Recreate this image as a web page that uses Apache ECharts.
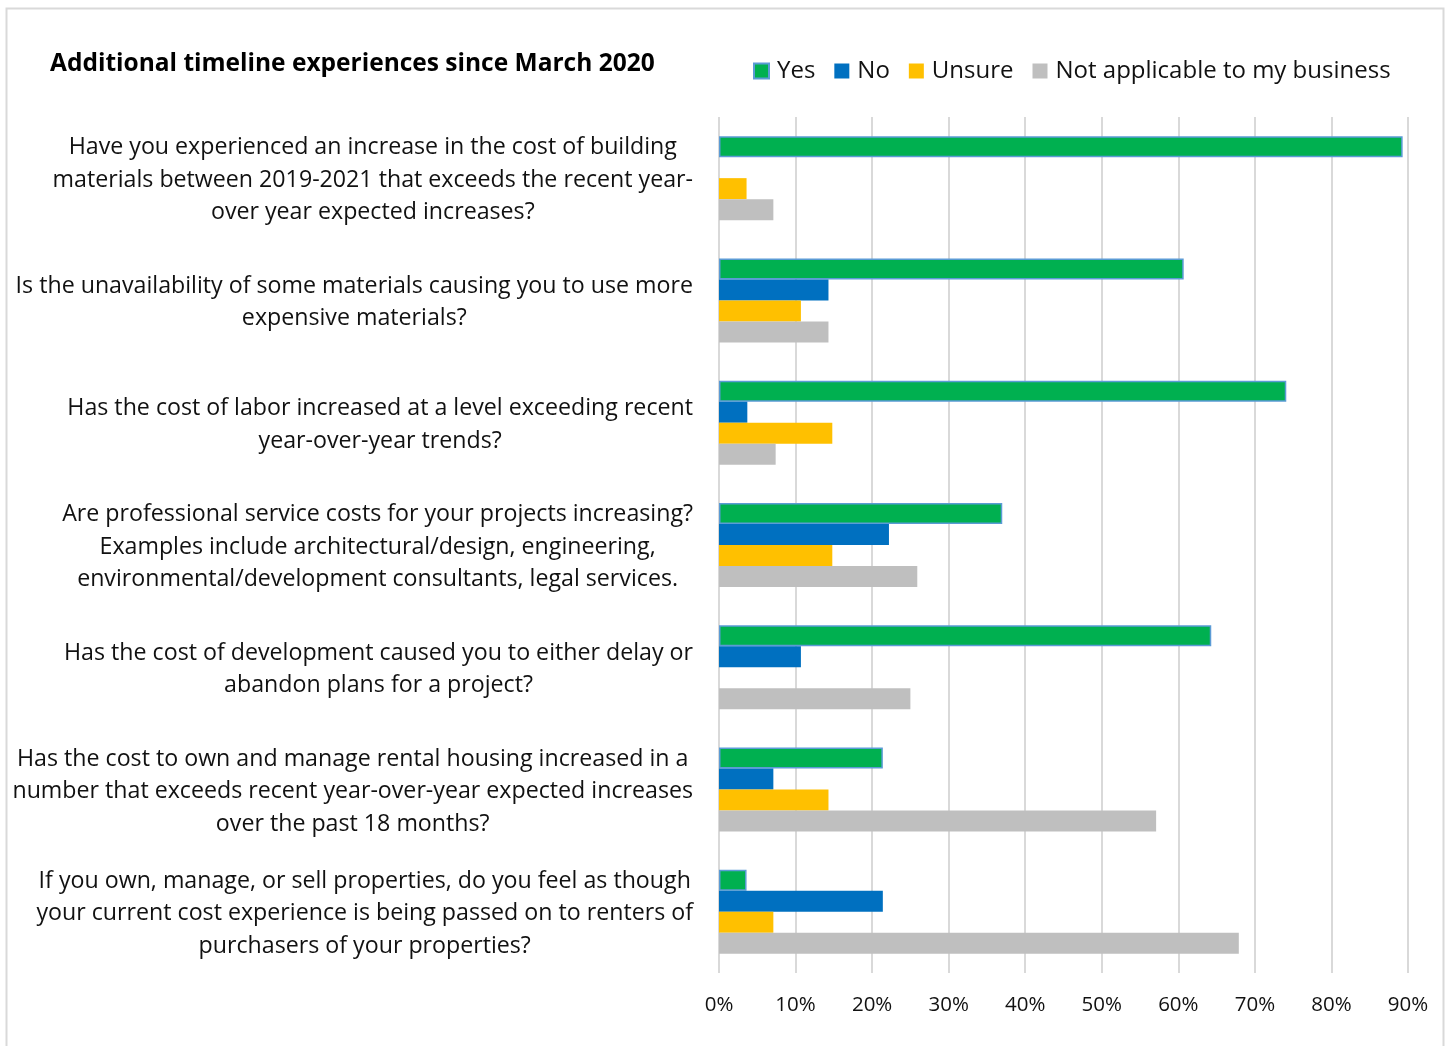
<!DOCTYPE html>
<html>
<head>
<meta charset="utf-8">
<script src="https://cdn.jsdelivr.net/npm/echarts@6/dist/echarts.min.js"></script>
<style>
  html, body { margin: 0; padding: 0; background: #fff; }
  #chart { width: 1449px; height: 1046px; }
</style>
</head>
<body>
<div id="chart"></div>
<script>
// Survey questions (top to bottom)
const questions = [
  "Have you experienced an increase in the cost of building\nmaterials between 2019-2021 that exceeds the recent year-\nover year expected increases?",
  "Is the unavailability of some materials causing you to use more\nexpensive materials?",
  "Has the cost of labor increased at a level exceeding recent\nyear-over-year trends?",
  "Are professional service costs for your projects increasing?\nExamples include architectural/design, engineering,\nenvironmental/development consultants, legal services.",
  "Has the cost of development caused you to either delay or\nabandon plans for a project?",
  "Has the cost to own and manage rental housing increased in a\nnumber that exceeds recent year-over-year expected increases\nover the past 18 months?",
  "If you own, manage, or sell properties, do you feel as though\nyour current cost experience is being passed on to renters of\npurchasers of your properties?"
];

// Share of responses, in percent
const yesValues    = [89.3, 60.7, 74.1, 37.0, 64.3, 21.4, 3.6];
const noValues     = [0,    14.3, 3.7,  22.2, 10.7, 7.1,  21.4];
const unsureValues = [3.6,  10.7, 14.8, 14.8, 0,    14.3, 7.1];
const naValues     = [7.1,  14.3, 7.4,  25.9, 25.0, 57.1, 67.9];

const seriesNames = ["Yes", "No", "Unsure", "Not applicable to my business"];
const titleText = "Additional timeline experiences since March 2020";

const FONT = "'Open Sans', 'Noto Sans', sans-serif";

const chart = echarts.init(document.getElementById('chart'), null, { renderer: 'canvas' });

function barSeries(name, data, color, extra) {
  return Object.assign({
    name: name,
    type: 'bar',
    data: data,
    barWidth: 21,
    barGap: '0%',
    itemStyle: { color: color },
    emphasis: { disabled: true }
  }, extra || {});
}

chart.setOption({
  animation: false,
  textStyle: { fontFamily: FONT },
  title: {
    text: titleText,
    left: 45,
    top: 47,
    textStyle: { fontFamily: FONT, fontSize: 24.5, fontWeight: 'bold', color: '#000' }
  },
  legend: {
    left: 748,
    top: 54,
    itemWidth: 15,
    itemHeight: 15,
    itemGap: 19,
    icon: 'rect',
    textStyle: { fontFamily: FONT, fontSize: 24, color: '#111', padding: [0, 0, 0, 3] },
    data: seriesNames
  },
  graphic: [{
    type: 'rect',
    shape: { x: 6.5, y: 8.5, width: 1437, height: 1060 },
    style: { fill: null, stroke: '#D9D9D9', lineWidth: 2 },
    silent: true
  }],
  grid: { left: 719, right: 41, top: 117, bottom: 73 },
  xAxis: {
    type: 'value',
    min: 0,
    max: 90,
    interval: 10,
    axisLine: { show: false },
    axisTick: { show: false },
    splitLine: { show: true, lineStyle: { color: '#D9D9D9', width: 2 } },
    axisLabel: {
      formatter: '{value}%',
      margin: 22,
      fontFamily: FONT,
      fontSize: 20.5,
      color: '#111'
    }
  },
  yAxis: {
    type: 'category',
    inverse: true,
    data: questions,
    axisLine: { show: false },
    axisTick: { show: false },
    axisLabel: {
      margin: 26,
      align: 'right',
      padding: [4, 0, 0, 0],
      fontFamily: FONT,
      fontSize: 23.2,
      color: '#111',
      lineHeight: 32.5,
      formatter: function (v) {
        return v.split('\n').map(function (l) { return '{c|' + l + '}'; }).join('\n');
      },
      rich: {
        c: { align: 'center', fontFamily: FONT, fontSize: 23.2, lineHeight: 32.5, color: '#111' }
      }
    }
  },
  series: [
    barSeries(seriesNames[0], yesValues, '#00B050', {
      itemStyle: { color: '#00B050', borderColor: '#5B9BD5', borderWidth: 1.5 }
    }),
    barSeries(seriesNames[1], noValues, '#0070C0'),
    barSeries(seriesNames[2], unsureValues, '#FFC000'),
    barSeries(seriesNames[3], naValues, '#BFBFBF')
  ]
});
</script>
</body>
</html>
